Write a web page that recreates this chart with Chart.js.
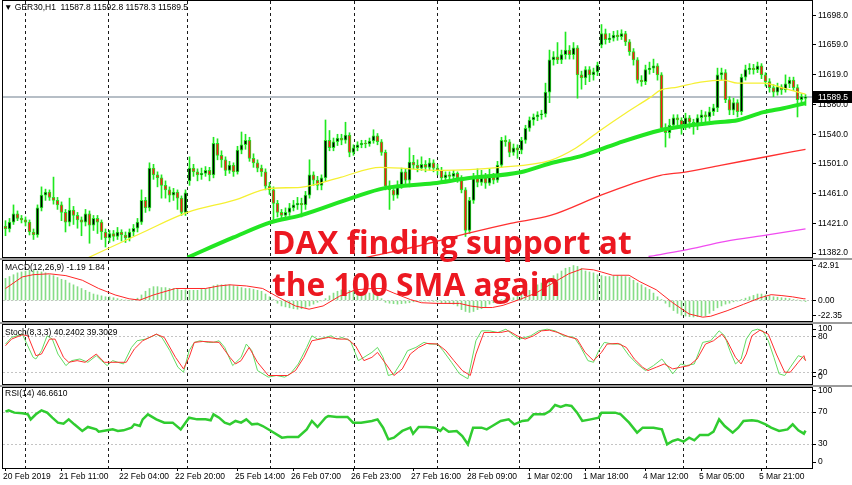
<!DOCTYPE html>
<html>
<head>
<meta charset="utf-8">
<script src="https://cdn.jsdelivr.net/npm/chart.js@4.4.1/dist/chart.umd.min.js"></script>
<style>
  body { margin: 0; width: 852px; height: 485px; overflow: hidden; position: relative; background: #fff; font-family: "Liberation Sans", Arial, sans-serif; }
  canvas { position: absolute; left: 0; }
  .sep { position: absolute; left: 0; width: 852px; height: 2px; background: #9a9a9a; }
  .lbl { position: absolute; left: 5px; font-size: 8.5px; line-height: 11px; color: #000; white-space: pre; z-index: 2; }
  #note { position: absolute; left: 272px; top: 221px; font-family: "Open Sans", sans-serif; font-weight: 700; font-size: 31.7px; line-height: 42px; color: #ec1821; white-space: nowrap; z-index: 3; }
</style>
</head>
<body>
<canvas id="mainChart" width="852" height="258" style="top:0"></canvas>
<div class="sep" style="top:258px"></div>
<canvas id="macdChart" width="852" height="62" style="top:260px"></canvas>
<div class="sep" style="top:322px"></div>
<canvas id="stochChart" width="852" height="61" style="top:324px"></canvas>
<div class="sep" style="top:385px"></div>
<canvas id="rsiChart" width="852" height="98" style="top:387px"></canvas>

<div class="lbl" style="top:2px;left:4px">▼ GER30,H1  11587.8 11592.8 11578.3 11589.5</div>
<div class="lbl" style="top:262px">MACD(12,26,9) -1.19 1.84</div>
<div class="lbl" style="top:327px">Stoch(8,3,3) 40.2402 39.3029</div>
<div class="lbl" style="top:388px">RSI(14) 46.6610</div>
<div id="note">DAX finding support at<br>the 100 SMA again</div>

<script>
// bar index range, one candle every 4px
const X_MIN = -0.625, X_MAX = 201.625;
const dayLines = [5, 25.75, 45.5, 66.25, 87.25, 108, 128.5, 148.5, 169.5, 190.25];
const timeIdx = [0, 14, 29, 43, 58, 72, 87, 102, 116, 131, 145, 160, 174, 189];
const timeLabels = ["20 Feb 2019", "21 Feb 11:00", "22 Feb 04:00", "22 Feb 20:00", "25 Feb 14:00", "26 Feb 07:00",
  "26 Feb 23:00", "27 Feb 16:00", "28 Feb 09:00", "1 Mar 02:00", "1 Mar 18:00", "4 Mar 12:00", "5 Mar 05:00", "5 Mar 21:00"];
const priceTicks = [11698, 11659, 11619, 11580, 11540, 11501, 11461, 11421, 11382];
const lastPrice = 11589.5;

// [open, high, low, close]
const candles = [
  [11418,11425,11405,11414],[11414,11428,11410,11423],[11423,11446,11420,11434],[11434,11438,11425,11428],[11428,11432,11422,11426],
  [11426,11430,11418,11423],[11423,11426,11406,11410],[11410,11414,11400,11406],[11406,11446,11403,11442],[11442,11470,11438,11459],
  [11459,11467,11452,11463],[11463,11466,11452,11456],[11456,11483,11447,11452],[11452,11456,11440,11446],[11446,11450,11425,11436],
  [11436,11440,11410,11423],[11423,11455,11418,11439],[11439,11444,11420,11432],[11432,11436,11415,11426],[11426,11430,11405,11423],
  [11423,11440,11418,11434],[11434,11438,11395,11419],[11419,11432,11412,11428],[11428,11432,11408,11423],[11423,11426,11400,11410],
  [11410,11414,11390,11402],[11402,11412,11396,11408],[11408,11412,11398,11404],[11404,11416,11400,11410],[11410,11413,11398,11406],
  [11406,11410,11396,11402],[11402,11414,11398,11410],[11410,11420,11405,11415],[11415,11428,11410,11423],[11423,11466,11420,11452],
  [11452,11456,11436,11442],[11442,11502,11438,11495],[11495,11500,11480,11486],[11486,11490,11470,11482],[11482,11486,11455,11472],
  [11472,11478,11455,11466],[11466,11470,11450,11459],[11459,11468,11452,11463],[11463,11466,11440,11455],[11455,11458,11432,11436],
  [11436,11466,11432,11462],[11478,11510,11472,11495],[11495,11500,11484,11490],[11490,11494,11478,11486],[11486,11495,11480,11488],
  [11488,11497,11484,11492],[11492,11496,11478,11486],[11486,11536,11482,11528],[11528,11534,11506,11512],[11512,11518,11496,11506],
  [11506,11510,11485,11492],[11492,11504,11488,11499],[11499,11502,11484,11490],[11490,11524,11487,11519],[11519,11543,11514,11526],
  [11526,11540,11520,11532],[11532,11536,11504,11508],[11508,11514,11496,11502],[11502,11506,11490,11495],[11495,11499,11484,11490],
  [11490,11494,11466,11471],[11471,11476,11460,11466],[11466,11470,11424,11448],[11448,11452,11430,11436],[11436,11440,11426,11432],
  [11432,11442,11428,11436],[11436,11448,11432,11442],[11442,11452,11438,11446],[11446,11456,11440,11448],[11448,11455,11430,11446],
  [11446,11464,11440,11459],[11459,11506,11455,11486],[11486,11490,11472,11479],[11479,11484,11466,11472],[11472,11486,11466,11482],
  [11482,11559,11478,11532],[11532,11545,11518,11522],[11522,11535,11518,11530],[11530,11540,11525,11535],[11535,11540,11526,11532],
  [11532,11556,11528,11539],[11539,11542,11510,11516],[11516,11526,11512,11522],[11522,11530,11518,11526],[11526,11532,11522,11528],
  [11528,11532,11522,11527],[11527,11535,11524,11531],[11531,11546,11528,11538],[11538,11541,11526,11530],[11530,11533,11512,11516],
  [11516,11519,11466,11471],[11471,11478,11440,11466],[11466,11472,11452,11459],[11459,11478,11455,11472],[11472,11495,11468,11490],
  [11490,11494,11474,11479],[11479,11522,11470,11503],[11503,11512,11494,11499],[11499,11506,11490,11495],[11495,11510,11492,11500],
  [11500,11505,11490,11496],[11496,11508,11492,11502],[11502,11506,11490,11495],[11495,11500,11486,11492],[11492,11496,11478,11482],
  [11482,11490,11478,11486],[11486,11490,11480,11484],[11484,11492,11480,11488],[11488,11490,11476,11482],[11482,11485,11462,11466],
  [11466,11469,11404,11412],[11412,11456,11408,11452],[11452,11488,11448,11482],[11482,11494,11470,11476],[11476,11492,11472,11482],
  [11482,11488,11468,11475],[11475,11494,11472,11483],[11483,11488,11474,11479],[11479,11504,11476,11499],[11499,11536,11496,11532],
  [11532,11538,11524,11530],[11530,11533,11510,11516],[11516,11527,11512,11522],[11522,11526,11508,11519],[11519,11536,11514,11532],
  [11532,11552,11528,11548],[11548,11563,11544,11559],[11559,11567,11552,11563],[11563,11570,11558,11566],[11566,11572,11560,11567],
  [11567,11608,11563,11596],[11596,11652,11582,11639],[11639,11650,11632,11643],[11643,11662,11634,11639],[11639,11652,11634,11646],
  [11646,11676,11640,11652],[11652,11658,11640,11646],[11646,11662,11640,11655],[11655,11658,11588,11619],[11619,11624,11600,11615],
  [11615,11630,11606,11626],[11626,11630,11610,11619],[11619,11628,11612,11623],[11623,11636,11618,11632],[11659,11686,11655,11674],
  [11674,11680,11660,11666],[11666,11674,11662,11668],[11668,11677,11664,11672],[11672,11678,11665,11670],[11670,11679,11666,11674],
  [11674,11677,11658,11663],[11663,11666,11645,11650],[11650,11654,11632,11639],[11639,11642,11608,11612],[11612,11618,11604,11610],
  [11610,11632,11606,11626],[11626,11636,11620,11628],[11628,11640,11622,11631],[11631,11634,11612,11619],[11619,11622,11544,11548],
  [11548,11554,11523,11542],[11542,11560,11535,11552],[11552,11566,11548,11562],[11562,11566,11550,11559],[11559,11562,11540,11552],
  [11552,11568,11546,11562],[11562,11565,11548,11556],[11556,11560,11540,11551],[11551,11566,11546,11562],[11562,11572,11556,11566],
  [11566,11570,11555,11563],[11563,11576,11558,11570],[11570,11580,11565,11575],[11575,11628,11570,11619],[11619,11628,11612,11622],
  [11622,11626,11582,11586],[11586,11590,11566,11572],[11572,11588,11566,11582],[11582,11586,11563,11570],[11570,11620,11566,11616],
  [11616,11632,11612,11626],[11626,11634,11620,11628],[11628,11633,11620,11626],[11626,11636,11622,11631],[11631,11634,11614,11619],
  [11619,11622,11604,11610],[11610,11614,11596,11602],[11602,11606,11590,11596],[11596,11608,11592,11603],[11603,11606,11593,11599],
  [11599,11619,11596,11607],[11607,11616,11602,11612],[11612,11616,11598,11602],[11602,11606,11563,11586],[11586,11594,11578,11590],
  [11587.8,11592.8,11578.3,11589.5]
];

// moving averages, [bar, price]
const sma50 = [[20.75,11376],[33.75,11408],[45.5,11436],[57,11452],[66.25,11468],[73.75,11469.4],[83.75,11482.7],[93.75,11496],
  [108.75,11492],[123.75,11496],[136.25,11505.4],[142.5,11521.4],[148.75,11545.4],[155,11568],[161.25,11589.4],[163.75,11598.7],
  [168,11602.7],[173.75,11609.4],[179.5,11612],[183,11608],[189.5,11608],[194.5,11601.4],[200,11593.4]];
const sma100 = [[45.5,11376],[57,11402.7],[66.25,11422.7],[73.75,11432],[87,11456],[94.5,11468],[107,11474.7],[115.5,11481.4],
  [128.75,11489.4],[136.25,11501.4],[144.5,11512],[153,11528],[163.75,11545.4],[169.5,11550.7],[178,11556],[183,11558.7],
  [189.5,11569.4],[194.5,11574.7],[200,11581.4]];
const sma200 = [[90,11376],[103.75,11392],[115.5,11408],[126.25,11421.4],[136.25,11432],[148.75,11458.7],[156.25,11473.4],
  [163.75,11485.4],[169.5,11489.4],[178.75,11498.7],[189.5,11509.4],[200,11520]];
const sma400 = [[160.75,11377.4],[169.5,11385.4],[180,11397.4],[190.5,11406],[200,11414]];

const macdHist = [
  24,26,28,30,31,32,33,33,32,31, 30,28,27,25,23,22,19,17,15,13, 11,9,7,6,5,4,4,3,2,1,
  0.5,0,1,2.5,6,10,13,15,15,14, 14,13,13,12,11,11.5,11,11,11,12, 13,14,16,17,17,17,17,16,15,14,
  13,13,12,11,10,7,4,1,-3,-6, -7,-8,-9,-9.5,-9,-7.5,-6,-4,-2,-0.5, 2,5,8,10,11.5,11.5,11,10,9.5,8.5,
  8,8,7.5,6,2,-2,-3,-3.5,-4,-3.5, -3,-2.5,-1.5,-1,-0.7,-0.5,-0.7,-1,-1.5,-2.5, -3,-3.5,-4,-6,-10,-12,-13,-12,-10,-9,
  -7,-4,-2.5,-0.5,1,2,2.5,3,5,7, 9,11,14,17,19,22,24,27,29,32, 35,36,38,37,35,32,31,30,28,27,
  26,26,26.5,27,26.5,26,25,22,19,17, 14,12,8,4,1,-3,-7,-11,-14,-16, -17,-17.5,-18,-17.5,-17,-16.5,-14,-11,-8,-6,
  -4,-3,-1.5,-0.7,1,2.5,4,5.5,7,7, 6,5,4,3.5,3,2.5,2,1,0.5,-0.5, -1.19
];
const macdSignal = [[0,13],[4.2,25.6],[6.9,28],[11,29],[15.1,27],[19.2,22],[23.3,13],[27.4,6],[30.9,1.8],[33.6,0.4],[37,6],
  [42.5,13],[50,13],[53.4,15.8],[56.1,17],[60.2,15.8],[64.3,13],[68.4,3],[72.5,-6],[75.9,-9.5],[79.4,-6],[83.5,4.6],[87.5,11.6],
  [91.6,13],[94.4,13],[97.1,8],[101.2,1],[104,-2.5],[108,-3.2],[113.5,-3.2],[116.2,-6],[119,-7.7],[121.7,-7.7],[124.4,-5.3],
  [128.5,1],[132.6,8],[136.7,18.6],[140.8,29],[144.2,34.4],[147,33.3],[149,30.9],[151.8,27.4],[155.9,27.4],[158.6,20.4],
  [162.7,11.6],[166.8,-2.5],[170.9,-14.7],[174.3,-18.2],[176.3,-17.2],[180.4,-11.2],[184.5,-4.2],[188.6,2.8],[191.4,6.3],
  [194.1,5.3],[196.8,3.9],[199.6,1.8],[200,1.84]];

const stochMain = [[0,67.7],[1.5,78.9],[4.2,84.5],[6.9,45.2],[7.6,42.4],[9,56.4],[10.4,81.7],[11.7,76.1],[13.1,50.8],[15.1,31.2],
  [16.5,39.6],[18.6,42.4],[20.6,36.8],[22.7,48],[24,39.6],[25.4,31.2],[26.8,39.6],[28.1,36.8],[29.5,34],[31.5,62],[32.9,73.3],
  [35,76.1],[37,81.7],[37.7,84.5],[39.1,78.9],[41.1,56.4],[43.1,28.4],[44.5,20],[45.9,56.4],[47.2,70.5],[48.6,73.3],[50.7,70.5],
  [52,70.5],[53.4,73.3],[54.8,62],[56.8,31.2],[58.9,45.2],[60.2,67.7],[61.6,56.4],[63,22.8],[65.7,11.6],[67.7,14.4],[69.8,11.6],
  [71.2,17.2],[73.2,34],[75.3,62],[76.6,81.7],[78,76.1],[80,78.9],[81.4,81.7],[82.8,76.1],[84.1,78.9],[86.2,73.3],[88.2,39.6],
  [89.6,45.2],[91.6,53.6],[93,62],[94.4,45.2],[95.7,14.4],[97.1,17.2],[99.2,39.6],[100.5,56.4],[102.6,62],[104.6,70.5],[106,67.7],
  [108,67.7],[109.4,56.4],[111.5,36.8],[113.5,17.2],[115.6,8.8],[117.6,73.3],[119,90.1],[121,90.1],[123.1,87.3],[125.1,92.9],
  [127.2,81.7],[128.5,76.1],[129.9,78.9],[131.3,81.7],[133.3,90.1],[135.4,92.9],[137.4,90.1],[139.5,81.7],[142.2,78.9],
  [143.6,64.9],[145.6,39.6],[147,36.8],[148.3,56.4],[149.7,70.5],[151.8,67.7],[153.8,67.7],[155.9,48],[157.9,34],[160,22.8],
  [162,31.2],[164.1,42.4],[165.4,31.2],[166.8,17.2],[168.8,34],[170.2,31.2],[172.2,34],[174.3,70.5],[176.3,73.3],[178.4,90.1],
  [179.8,81.7],[181.1,56.4],[182.5,34],[183.9,42.4],[185.2,76.1],[186.6,90.1],[188,92.9],[189.3,90.1],[190.7,73.3],[192.1,45.2],
  [193.4,17.2],[194.8,14.4],[196.2,28.4],[198.2,48],[199.3,45.2],[200,40.24]];
const stochSignal = [[0,64.9],[1.5,76.1],[4.2,83.4],[5.6,81.7],[7.6,48],[9,50.8],[11,76.1],[12.4,76.1],[14.5,45.2],[15.8,36.8],
  [17.9,39.6],[19.9,36.8],[22.7,50.8],[24.7,36.8],[28.1,36.8],[30.2,36.8],[32.2,59.2],[34.3,73.3],[37.7,84.5],[39.7,78.9],
  [42.5,45.2],[44.5,25.6],[45.9,45.2],[47.2,70.5],[49.3,72.1],[53.4,70.5],[56.1,45.2],[57.5,34],[58.9,39.6],[60.9,62],[63,36.8],
  [65.7,14.4],[70.5,14.4],[72.5,22.8],[74.6,45.2],[76.6,73.3],[78.7,76.1],[80.7,78.9],[83.5,76.1],[85.5,76.1],[87.5,64.9],
  [89.6,39.6],[91.6,45.2],[93,53.6],[95.1,34],[97.1,14.4],[99.2,25.6],[101.2,50.8],[103.3,62],[105.3,68.8],[108,67.7],[110.1,56.4],
  [112.1,39.6],[114.2,22.8],[116.2,14.4],[117.6,50.8],[119.6,87.3],[123.8,87.3],[125.8,90.1],[127.9,81.7],[129.9,76.1],[132,81.7],
  [134,90.1],[136,91.2],[138.1,87.3],[140.8,80],[142.9,76.1],[144.9,53.6],[147,39.6],[149,53.6],[150.4,67.7],[153.1,68.8],
  [155.2,62],[157.2,42.4],[159.3,28.4],[160.6,22.8],[162.7,28.4],[164.7,34],[166.8,25.6],[168.8,28.4],[170.9,31.2],[172.9,42.4],
  [175,67.7],[177,73.3],[179.1,84.5],[180.4,73.3],[182.5,45.2],[183.9,34],[185.2,50.8],[186.6,81.7],[188.6,91.2],[190.7,84.5],
  [192.7,50.8],[194.8,20],[196.2,20],[198.2,36.8],[199.6,48],[200,39.3]];

const rsi = [[0,70.4],[0.8,72.1],[2.2,69.2],[4.2,68.3],[5.6,67.1],[6.3,60.8],[7.6,67.1],[9,72.1],[10.4,69.2],[11.7,62.9],[13.1,56.7],
  [14.5,55.4],[15.8,60.8],[17.2,54.6],[19.2,46.3],[20.6,51.3],[22.7,48.3],[23.3,45.4],[25.4,47.1],[26.8,48.3],[28.1,46.3],
  [29.5,47.1],[31.5,50.4],[32.2,54.6],[33.6,52.5],[34.3,60.8],[35.6,67.1],[37.7,60.8],[39.7,56.7],[41.8,56.7],[43.8,48.3],
  [45.9,62.9],[47.9,60.8],[50,60.8],[51.3,59.6],[52,67.1],[53.4,62.9],[54.8,56.7],[56.1,54.6],[57.5,58.8],[58.9,56.7],[60.2,60.8],
  [61.6,54.6],[63,55.4],[64.3,52.5],[66.4,46.3],[69.1,37.9],[70.5,38.8],[73.2,38.8],[75.3,48.3],[76.6,58.8],[78,51.3],[80,62.9],
  [80.7,65],[82.8,63.8],[85.5,63.8],[86.9,56.7],[88.9,56.7],[91.6,58.8],[93,60.8],[94.4,50.4],[95.7,35.8],[97.1,37.9],[99.2,46.3],
  [101.2,50.4],[101.9,42.9],[103.3,51.3],[105.3,51.3],[107.4,50.4],[108.7,46.3],[109.4,50.4],[110.8,45.4],[112.8,46.3],[114.2,40],
  [115.6,29.6],[116.9,50.4],[119,50.4],[120.3,48.3],[121.7,52.5],[123.8,58.8],[125.8,60.8],[127.2,54.6],[129.2,58.8],[130.6,59.6],
  [132,67.1],[134.7,67.1],[136.1,71.3],[137.4,78.8],[138.8,76.3],[140.1,78.8],[141.5,77.5],[142.9,69.2],[144.2,58.8],[146.3,60.8],
  [148.3,62.9],[149,69.2],[152.4,69.2],[153.8,67.1],[155.9,56.7],[157.9,44.2],[159.3,50.4],[162,50.4],[164.1,48.3],[165.4,29.6],
  [166.8,33.8],[168.1,35.8],[169.5,32.9],[170.9,37.9],[172.2,34.6],[173.6,41.3],[175.7,41.3],[177,45.4],[178.4,60.8],[179.8,52.5],
  [181.8,44.2],[183.2,50.4],[184.5,58.8],[186.6,59.6],[188,58.8],[190,54.6],[191.4,50.4],[193.4,46.3],[195.5,48.3],[196.8,54.6],
  [198.2,47.1],[199.6,42.9],[200,46.66]];

const WICK = "#1fe81f";
const tickFont = { family: "Liberation Sans", size: 8.5 };
const pts = arr => arr.map(p => ({ x: p[0], y: p[1] }));

function xScales(showTime) {
  return {
    x: {
      type: "linear", min: X_MIN, max: X_MAX, offset: false, display: showTime,
      afterBuildTicks: s => { s.ticks = timeIdx.map(v => ({ value: v })); },
      afterFit: s => {
        if (showTime) s.height = 17;
        s.paddingLeft = 0;
        s.paddingRight = 0;
      },
      ticks: { callback: (v, i) => timeLabels[i], font: tickFont, color: "#000", align: "start", labelOffset: -2.5, maxRotation: 0, autoSkip: false, padding: 1 },
      grid: { drawOnChartArea: false, offset: false, tickLength: 3, tickColor: "#000" },
      border: { display: false }
    },
    xg: {
      type: "linear", min: X_MIN, max: X_MAX, offset: false, position: "bottom",
      afterBuildTicks: s => { s.ticks = dayLines.map(v => ({ value: v })); },
      ticks: { display: false },
      grid: { color: "#1a1a1a", drawTicks: false, offset: false },
      border: { display: false, dash: [3, 3] }
    }
  };
}

function yScale(min, max, ticks, labels, levels) {
  return {
    position: "right", min: min, max: max,
    afterBuildTicks: s => { s.ticks = ticks.map(v => ({ value: v })); },
    afterFit: s => { s.width = 40; s.paddingTop = 0; s.paddingBottom = 0; },
    ticks: { callback: (v, i) => labels[i], font: tickFont, color: "#000", padding: 2, autoSkip: false },
    grid: {
      color: c => (c.tick && levels.includes(c.tick.value)) ? "#c4c4c4" : "rgba(0,0,0,0)",
      tickColor: "#000", tickLength: 4
    },
    border: { display: false, dash: [2, 2] }
  };
}

const frame = {
  id: "frame",
  afterDraw(chart) {
    const { ctx, chartArea: a } = chart;
    ctx.save();
    ctx.strokeStyle = "#000";
    ctx.lineWidth = 1;
    ctx.strokeRect(a.left - 0.5, a.top - 0.5, a.right - a.left + 1, a.bottom - a.top + 1);
    ctx.restore();
  }
};

const priceTag = {
  id: "priceTag",
  beforeDatasetsDraw(chart) {
    const { ctx, chartArea: a, scales } = chart;
    const y = Math.round(scales.y.getPixelForValue(lastPrice));
    ctx.save();
    ctx.fillStyle = "#b6bec6";
    ctx.fillRect(a.left, y - 1, a.right - a.left, 2);
    ctx.restore();
  },
  afterDraw(chart) {
    const { ctx, scales } = chart;
    const y = Math.round(scales.y.getPixelForValue(lastPrice));
    ctx.save();
    ctx.fillStyle = "#000";
    ctx.fillRect(813, y - 6, 39, 12);
    ctx.fillStyle = "#fff";
    ctx.font = "8.5px 'Liberation Sans'";
    ctx.textBaseline = "middle";
    ctx.fillText(lastPrice.toFixed(1), 818, y + 0.5);
    ctx.restore();
  }
};

function makeChart(id, datasets, y, showTime, extra) {
  return new Chart(document.getElementById(id), {
    type: "bar",
    data: { datasets: datasets },
    options: {
      responsive: false,
      animation: false,
      devicePixelRatio: 1,
      layout: { padding: { left: 3, top: 1, right: 0, bottom: showTime ? 0 : 1 } },
      plugins: { legend: { display: false }, tooltip: { enabled: false } },
      scales: Object.assign(xScales(showTime), { y: y })
    },
    plugins: [frame].concat(extra || [])
  });
}

const smaLine = (data, color, width, order) => ({
  type: "line", data: pts(data), borderColor: color, borderWidth: width,
  pointRadius: 0, cubicInterpolationMode: "monotone", order: order
});

makeChart("mainChart", [
  {
    data: candles.map((c, i) => ({ x: i, y: [c[2], c[1]] })),
    backgroundColor: WICK, barThickness: 1, grouped: false, order: 10
  },
  {
    data: candles.map((c, i) => ({ x: i, y: [c[0], c[3]] })),
    backgroundColor: candles.map(c => c[3] >= c[0] ? "#000" : "#ff1a1a"),
    borderColor: WICK, borderWidth: 1, borderSkipped: false,
    barThickness: 3, grouped: false, minBarLength: 1, order: 9
  },
  smaLine(sma400, "#f04cf0", 1.3, 4),
  smaLine(sma200, "#ff3030", 1.3, 3),
  smaLine(sma50, "#f5f032", 1.3, 2),
  smaLine(sma100, "#22e622", 4, 1)
], yScale(11376.7, 11717.3, priceTicks, priceTicks.map(v => v.toFixed(1)), []), false, [priceTag]);

makeChart("macdChart", [
  { data: macdHist.map((v, i) => ({ x: i, y: v })), backgroundColor: "#86dd86", barThickness: 1, grouped: false, order: 2 },
  { type: "line", data: pts(macdSignal), borderColor: "#ff2626", borderWidth: 1, pointRadius: 0, order: 1 }
], yScale(-22.35, 42.91, [37.5, 0, -16.9], ["42.91", "0.00", "-22.35"], [0]), false);

makeChart("stochChart", [
  { type: "line", data: pts(stochMain), borderColor: "#62dc62", borderWidth: 1, pointRadius: 0, order: 2 },
  { type: "line", data: pts(stochSignal), borderColor: "#ff3030", borderWidth: 1, pointRadius: 0, order: 1 }
], yScale(0, 100, [93.2, 80, 20, 11.9], ["100", "80", "20", "0"], [80, 20]), false);

makeChart("rsiChart", [
  { type: "line", data: pts(rsi), borderColor: "#30cc30", borderWidth: 2.5, pointRadius: 0, order: 1 }
], yScale(0, 100, [96.25, 70, 30, 7.5], ["100", "70", "30", "0"], [70, 30]), true);
</script>
</body>
</html>
